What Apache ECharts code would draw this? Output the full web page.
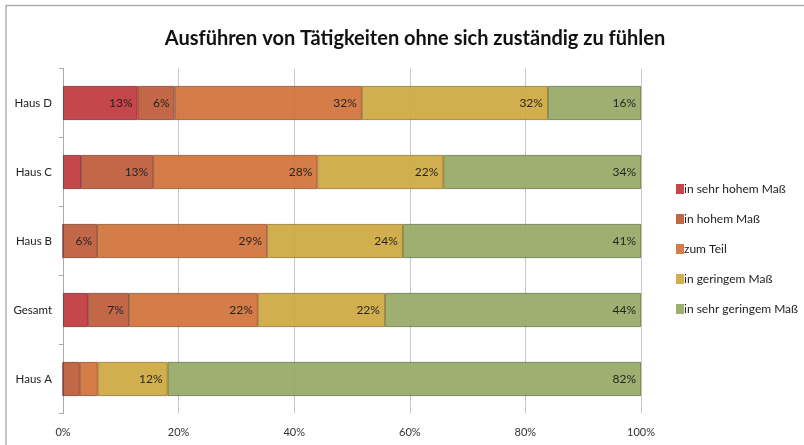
<!DOCTYPE html>
<html>
<head>
<meta charset="utf-8">
<script src="https://cdn.jsdelivr.net/npm/echarts@6/dist/echarts.min.js"></script>
<style>html,body{margin:0;padding:0;background:#fff}#c{width:804px;height:445px}</style>
</head>
<body>
<div id="c"></div>
<script>
const categories = ['Haus A', 'Gesamt', 'Haus B', 'Haus C', 'Haus D'];
const seriesNames = ['in sehr hohem Maß', 'in hohem Maß', 'zum Teil', 'in geringem Maß', 'in sehr geringem Maß'];
const sehrHoch = [0, 4.3, 0, 3.1, 12.9];
const hoch = [2.9, 7.1, 5.9, 12.5, 6.4];
const teil = [3.1, 22.3, 29.4, 28.4, 32.4];
const gering = [12.1, 22.0, 23.5, 21.8, 32.2];
const sehrGering = [81.9, 44.3, 41.2, 34.2, 16.1];
const xTicks = [0, 20, 40, 60, 80, 100];
const colors = ['#C0393E', '#BD5B3A', '#D2733A', '#CEA942', '#96A966'];
const borders = ['#7a2426', '#7a3a24', '#864a24', '#85702a', '#5f6e40'];

const seriesData = [sehrHoch, hoch, teil, gering, sehrGering];
const chart = echarts.init(document.getElementById('c'), null, {renderer: 'canvas'});
const FONT = 'Lato';
chart.setOption({
  animation: false,
  backgroundColor: '#fff',
  graphic: [
    {type: 'line', shape: {x1: 6, y1: 5.5, x2: 804, y2: 5.5}, style: {stroke: '#b0b0b0', lineWidth: 1.5}, z: 100},
    {type: 'line', shape: {x1: 6, y1: 5, x2: 6, y2: 445}, style: {stroke: '#b0b0b0', lineWidth: 1.5}, z: 100}
  ],
  title: {
    text: 'Ausführen von Tätigkeiten ohne sich zuständig zu fühlen',
    left: 410, top: 24, textAlign: 'center',
    textStyle: {fontFamily: FONT, fontSize: 20, fontWeight: 'bold', color: '#111'}
  },
  legend: {
    orient: 'vertical', left: 671, top: 178, itemGap: 18, itemWidth: 8, itemHeight: 10,
    icon: 'rect',
    itemStyle: {borderWidth: 0},
    textStyle: {fontFamily: FONT, fontSize: 12, color: '#222', padding: [0, 0, 0, -5]},
    data: seriesNames
  },
  grid: {left: 63, right: 163, top: 68.5, bottom: 31.5, containLabel: false},
  xAxis: {
    type: 'value', min: 0, max: 100, interval: 20,
    axisLabel: {formatter: v => xTicks.includes(v) ? v + '%' : '', fontFamily: FONT, fontSize: 11, color: '#333', margin: 13},
    splitLine: {show: true, lineStyle: {color: '#c8c8c8', width: 1}},
    axisLine: {show: false}, axisTick: {show: false}
  },
  yAxis: {
    type: 'category', data: categories,
    axisLine: {show: true, lineStyle: {color: '#aaa'}},
    axisTick: {show: true, length: 4, lineStyle: {color: '#aaa'}},
    axisLabel: {fontFamily: FONT, fontSize: 11.5, color: '#222', margin: 11}
  },
  series: seriesNames.map((name, i) => ({
    name, type: 'bar', stack: 'total', barWidth: 34,
    data: seriesData[i],
    itemStyle: {color: colors[i], borderColor: borders[i], borderWidth: 0.8, opacity: 0.93},
    label: {
      show: true, position: 'insideRight', distance: 5,
      formatter: p => p.value >= 5 ? Math.round(p.value) + '%' : '',
      fontFamily: FONT, fontSize: 12, color: '#1a1a1a'
    }
  }))
});
</script>
</body>
</html>
